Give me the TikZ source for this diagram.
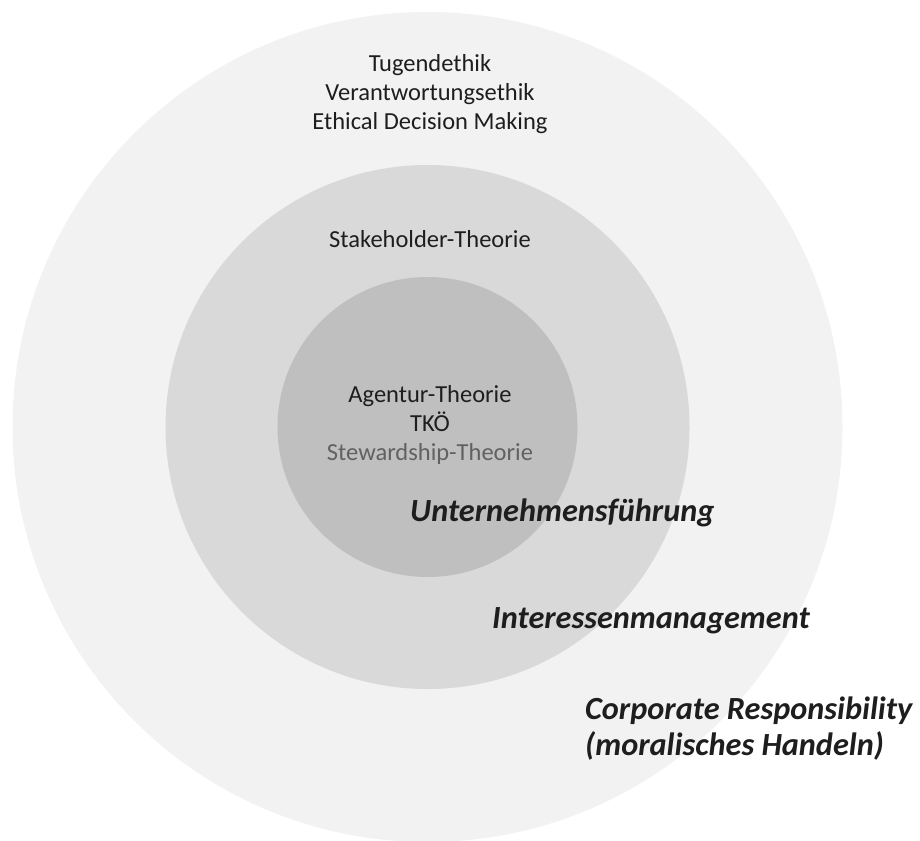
\documentclass[tikz,border=0pt]{standalone}
\usepackage{fontspec}
\setmainfont{Carlito}
\definecolor{ringA}{HTML}{F2F2F2}
\definecolor{ringB}{HTML}{D9D9D9}
\definecolor{ringC}{HTML}{BFBFBF}
\definecolor{txt}{HTML}{1E1E1E}
\begin{document}
\begin{tikzpicture}[x=1pt,y=-1pt,
  ring/.style={circle,inner sep=0pt,draw=none},
  plain/.style={text=txt,font=\fontsize{24.5}{29}\selectfont,align=center,inner sep=0pt},
  emph/.style={text=txt,font=\fontsize{32.3}{36}\selectfont\bfseries\itshape,inner sep=0pt}]
\useasboundingbox (0,0) rectangle (920,840);
\fill[white] (0,0) rectangle (920,840);
\node[ring,fill=ringA,minimum size=830pt] (outer) at (427.5,427) {};
\node[ring,fill=ringB,minimum size=524pt] (middle) at (427.5,427) {};
\node[ring,fill=ringC,minimum size=300pt] (inner) at (427.5,427) {};
\node[plain] (ethics) at (430,94) {Tugendethik\\Verantwortungsethik\\Ethical Decision Making};
\node[plain] (stake) at (430,239) {Stakeholder-Theorie};
\node[plain] (agency) at (430,425) {Agentur-Theorie\\TKÖ\\{\color{black!62}Stewardship-Theorie}};
\node[emph,anchor=west] (uf) at (410,513) {Unternehmensführung};
\node[emph,anchor=west] (im) at (492,621) {Interessenmanagement};
\node[emph,anchor=west,align=left] (cr) at (585,729) {Corporate Responsibility\\(moralisches Handeln)};
\end{tikzpicture}
\end{document}
